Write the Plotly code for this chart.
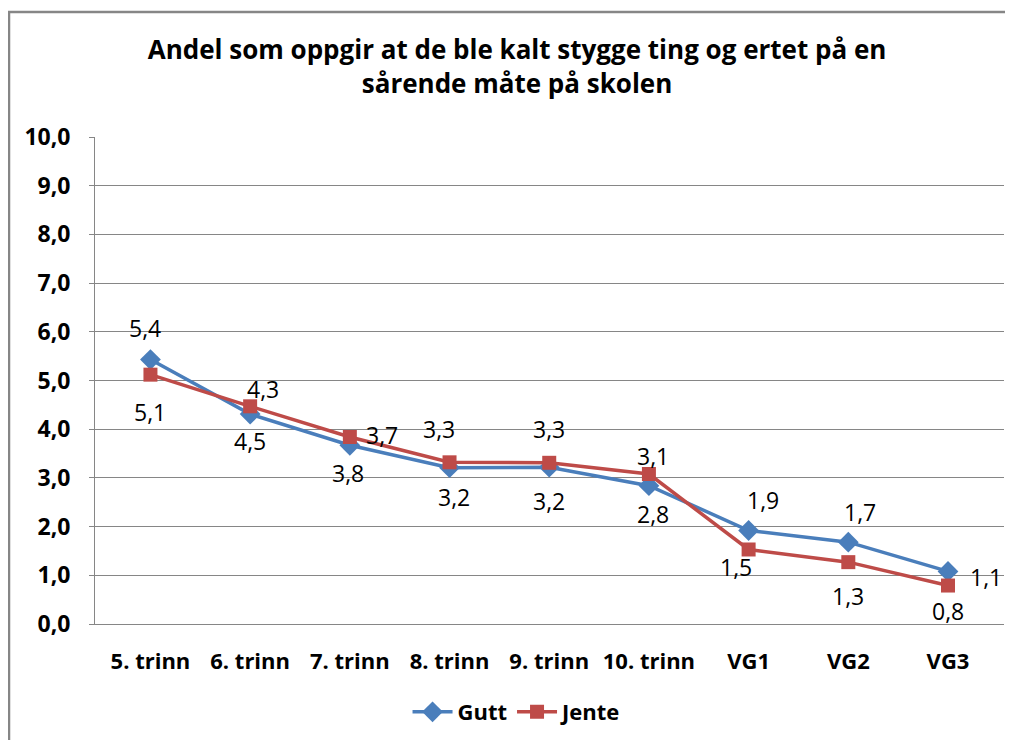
import plotly.graph_objects as go

categories = ["5. trinn", "6. trinn", "7. trinn", "8. trinn", "9. trinn",
              "10. trinn", "VG1", "VG2", "VG3"]
gutt = [5.43, 4.31, 3.67, 3.21, 3.22, 2.84, 1.92, 1.68, 1.08]
jente = [5.12, 4.47, 3.84, 3.32, 3.31, 3.08, 1.53, 1.27, 0.79]
y_ticks = [0, 1, 2, 3, 4, 5, 6, 7, 8, 9, 10]

# label offsets in pixels (style only)
gutt_shift = [(-5, 32), (13, 25), (32, 10), (4, -29), (0, -34), (4, -28), (14, 31), (12, 30), (38, -6)]
jente_shift = [(0, -37), (0, -35), (-2, -36), (-11, 33), (0, 34), (4, 18), (-13, -18), (0, -34), (0, -25)]

BLUE = "#4A7EBB"
RED = "#BE4B48"
FONT = "Open Sans"
W, H = 1005, 732

fig = go.Figure()
fig.add_trace(go.Scatter(
    x=categories, y=gutt, name="Gutt", mode="lines+markers",
    line=dict(color=BLUE, width=3.5),
    marker=dict(symbol="diamond", size=16, color=BLUE),
))
fig.add_trace(go.Scatter(
    x=categories, y=jente, name="Jente", mode="lines+markers",
    line=dict(color=RED, width=3.5),
    marker=dict(symbol="square", size=14, color=RED),
))

annotations = []
for vals, shifts in ((gutt, gutt_shift), (jente, jente_shift)):
    for c, v, (dx, dy) in zip(categories, vals, shifts):
        annotations.append(dict(
            x=c, y=v, xref="x", yref="y",
            text=f"{v:.1f}".replace(".", ","),
            showarrow=False, xshift=dx, yshift=dy,
            font=dict(family=FONT, size=23, color="#000000"),
        ))

fig.update_layout(
    width=W, height=H,
    margin=dict(l=87, r=9, t=129, b=116),
    paper_bgcolor="white", plot_bgcolor="white",
    separators=",.",
    title=dict(
        text="Andel som oppgir at de ble kalt stygge ting og ertet på en<br>sårende måte på skolen",
        x=0.5065, xanchor="center", y=1 - 51 / H, yanchor="top",
        font=dict(family=FONT, size=26, color="#000000", weight="bold"),
    ),
    xaxis=dict(
        type="category", showgrid=False, showline=True, linecolor="#868686", linewidth=1,
        ticks="", tickfont=dict(family=FONT, size=22, color="#000000", weight="bold"),
        ticklabelstandoff=18, automargin=False,
    ),
    yaxis=dict(
        range=[0, 10], tickvals=y_ticks, tickformat=".1f",
        showgrid=True, gridcolor="#868686", gridwidth=1,
        showline=True, linecolor="#868686", linewidth=1,
        ticks="outside", ticklen=5, tickcolor="#868686",
        tickfont=dict(family=FONT, size=23, color="#000000", weight="bold"),
        ticklabelstandoff=14,
        zeroline=False, automargin=False,
    ),
    legend=dict(
        orientation="h", x=0.5065, xanchor="center", xref="container",
        y=1 - 704 / H, yanchor="middle", yref="container",
        font=dict(family=FONT, size=22, color="#000000", weight="bold"),
        itemwidth=40, tracegroupgap=0,
    ),
    showlegend=True,
    annotations=annotations,
    shapes=[dict(
        type="path", xref="paper", yref="paper",
        path="M -0.0946,-0.3 L -0.0946,1.2567 L 1.05,1.2567",
        line=dict(color="#868686", width=2.5),
    )],
)

fig.write_html("out.html")
